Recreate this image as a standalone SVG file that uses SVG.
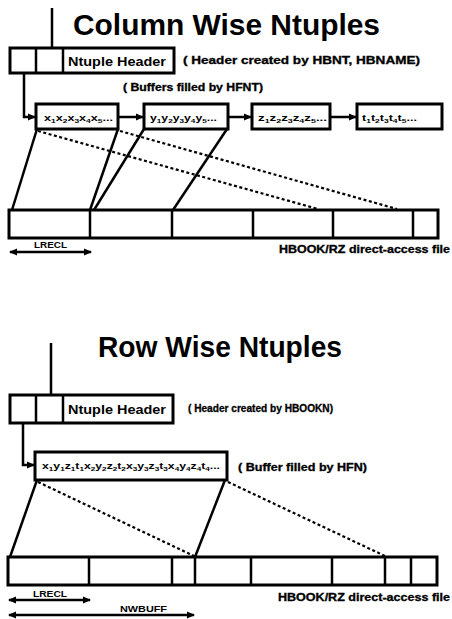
<svg xmlns="http://www.w3.org/2000/svg" width="452" height="619" viewBox="0 0 452 619">
<style>
text{font-family:"Liberation Sans",Arial,sans-serif;font-weight:bold;fill:#000}
.title{font-size:29px}
.hdr{font-size:13px}
.note{font-size:10px;stroke:#000;stroke-width:0.3}
.buf{font-size:9px}
.s{font-size:6px;baseline-shift:-2px}
.box{fill:#fff;stroke:#000;stroke-width:3}
.div{stroke:#000;stroke-width:2.5}
.ln{stroke:#000;stroke-width:2.5;fill:none}
.dot{stroke:#000;stroke-width:2.2;stroke-dasharray:3 2.5;fill:none}
</style>
<defs>
<marker id="ah" markerUnits="userSpaceOnUse" markerWidth="8" markerHeight="8" refX="7" refY="4" orient="auto">
<path d="M0,0.5 L8,4 L0,7.5 Z" fill="#000"/>
</marker>
<marker id="ahs" markerUnits="userSpaceOnUse" markerWidth="8" markerHeight="8" refX="1" refY="4" orient="auto">
<path d="M8,0.5 L0,4 L8,7.5 Z" fill="#000"/>
</marker>
</defs>

<!-- ===== Column Wise ===== -->
<text class="title" x="73" y="35" textLength="307" lengthAdjust="spacingAndGlyphs">Column Wise Ntuples</text>

<g id="cw-header">
<rect class="box" x="10" y="48" width="164" height="25"/>
<line class="div" x1="36" y1="48" x2="36" y2="73"/>
<line class="div" x1="63" y1="48" x2="63" y2="73"/>
<text class="hdr" x="68" y="66" textLength="98" lengthAdjust="spacingAndGlyphs">Ntuple Header</text>
</g>
<text class="note" x="183" y="64" textLength="237" lengthAdjust="spacingAndGlyphs">( Header created by HBNT, HBNAME)</text>
<text class="note" x="123" y="91" textLength="140" lengthAdjust="spacingAndGlyphs">( Buffers filled by HFNT)</text>

<g id="cw-buf-x">
<rect class="box" x="36" y="104" width="82" height="25"/>
<text class="buf" x="44" y="121" textLength="69" lengthAdjust="spacingAndGlyphs">x<tspan class="s">1</tspan>x<tspan class="s">2</tspan>x<tspan class="s">3</tspan>x<tspan class="s">4</tspan>x<tspan class="s">5</tspan>...</text>
</g>
<g id="cw-buf-y">
<rect class="box" x="144" y="104" width="84" height="25"/>
<text class="buf" x="150" y="121" textLength="67" lengthAdjust="spacingAndGlyphs">y<tspan class="s">1</tspan>y<tspan class="s">2</tspan>y<tspan class="s">3</tspan>y<tspan class="s">4</tspan>y<tspan class="s">5</tspan>...</text>
</g>
<g id="cw-buf-z">
<rect class="box" x="252" y="104" width="78" height="25"/>
<text class="buf" x="258" y="121" textLength="69" lengthAdjust="spacingAndGlyphs">z<tspan class="s">1</tspan>z<tspan class="s">2</tspan>z<tspan class="s">3</tspan>z<tspan class="s">4</tspan>z<tspan class="s">5</tspan>...</text>
</g>
<g id="cw-buf-t">
<rect class="box" x="357" y="104" width="85" height="25"/>
<text class="buf" x="362" y="121" textLength="55" lengthAdjust="spacingAndGlyphs">t<tspan class="s">1</tspan>t<tspan class="s">2</tspan>t<tspan class="s">3</tspan>t<tspan class="s">4</tspan>t<tspan class="s">5</tspan>...</text>
</g>

<g id="cw-file">
<rect class="box" x="9" y="210" width="429" height="28"/>
<line class="div" x1="90" y1="210" x2="90" y2="238"/>
<line class="div" x1="172" y1="210" x2="172" y2="238"/>
<line class="div" x1="253" y1="210" x2="253" y2="238"/>
<line class="div" x1="333" y1="210" x2="333" y2="238"/>
<line class="div" x1="413" y1="210" x2="413" y2="238"/>
</g>
<text class="note" x="279" y="253" textLength="171" lengthAdjust="spacingAndGlyphs">HBOOK/RZ direct-access file</text>
<text class="buf" x="34" y="248" textLength="33" lengthAdjust="spacingAndGlyphs">LRECL</text>

<g id="cw-connectors">
<line class="ln" x1="52" y1="8" x2="52" y2="48"/>
<path class="ln" d="M24,73 V117 H35" marker-end="url(#ah)"/>
<line class="ln" x1="118" y1="117" x2="143" y2="117" marker-end="url(#ah)"/>
<line class="ln" x1="228" y1="117" x2="251" y2="117" marker-end="url(#ah)"/>
<line class="ln" x1="330" y1="117" x2="356" y2="117" marker-end="url(#ah)"/>
<line class="ln" x1="37" y1="129" x2="12" y2="210"/>
<line class="ln" x1="118" y1="129" x2="90" y2="210"/>
<line class="ln" x1="144" y1="129" x2="94" y2="210"/>
<line class="ln" x1="227" y1="129" x2="173" y2="210"/>
<line class="dot" x1="38" y1="131" x2="318" y2="209"/>
<line class="dot" x1="120" y1="131" x2="397" y2="209"/>
<line class="ln" x1="10" y1="252" x2="91" y2="252" marker-start="url(#ahs)" marker-end="url(#ah)"/>
</g>

<!-- ===== Row Wise ===== -->
<text class="title" x="98" y="357" textLength="244" lengthAdjust="spacingAndGlyphs">Row Wise Ntuples</text>

<g id="rw-header">
<rect class="box" x="10" y="395" width="163" height="28"/>
<line class="div" x1="36" y1="395" x2="36" y2="423"/>
<line class="div" x1="63" y1="395" x2="63" y2="423"/>
<text class="hdr" x="68" y="414" textLength="98" lengthAdjust="spacingAndGlyphs">Ntuple Header</text>
</g>
<text class="note" x="188" y="412" textLength="145" lengthAdjust="spacingAndGlyphs">( Header created by HBOOKN)</text>

<g id="rw-buf">
<rect class="box" x="35" y="452" width="192" height="28"/>
<text class="buf" x="42" y="469" textLength="178" lengthAdjust="spacingAndGlyphs">x<tspan class="s">1</tspan>y<tspan class="s">1</tspan>z<tspan class="s">1</tspan>t<tspan class="s">1</tspan>x<tspan class="s">2</tspan>y<tspan class="s">2</tspan>z<tspan class="s">2</tspan>t<tspan class="s">2</tspan>x<tspan class="s">3</tspan>y<tspan class="s">3</tspan>z<tspan class="s">3</tspan>t<tspan class="s">3</tspan>x<tspan class="s">4</tspan>y<tspan class="s">4</tspan>z<tspan class="s">4</tspan>t<tspan class="s">4</tspan>...</text>
</g>
<text class="note" x="238" y="471" textLength="129" lengthAdjust="spacingAndGlyphs">( Buffer filled by HFN)</text>

<g id="rw-file">
<rect class="box" x="8" y="557" width="429" height="28"/>
<line class="div" x1="89" y1="557" x2="89" y2="585"/>
<line class="div" x1="172" y1="557" x2="172" y2="585"/>
<line class="div" x1="195" y1="557" x2="195" y2="585"/>
<line class="div" x1="251" y1="557" x2="251" y2="585"/>
<line class="div" x1="332" y1="557" x2="332" y2="585"/>
<line class="div" x1="385" y1="557" x2="385" y2="585"/>
<line class="div" x1="411" y1="557" x2="411" y2="585"/>
</g>
<text class="note" x="278" y="601" textLength="172" lengthAdjust="spacingAndGlyphs">HBOOK/RZ direct-access file</text>
<text class="buf" x="33" y="597" textLength="34" lengthAdjust="spacingAndGlyphs">LRECL</text>
<text class="buf" x="120" y="612" textLength="47" lengthAdjust="spacingAndGlyphs">NWBUFF</text>

<g id="rw-connectors">
<line class="ln" x1="51" y1="343" x2="51" y2="395"/>
<path class="ln" d="M23,423 V465 H34" marker-end="url(#ah)"/>
<line class="ln" x1="37" y1="480" x2="10" y2="557"/>
<line class="ln" x1="225" y1="480" x2="195" y2="557"/>
<line class="dot" x1="38" y1="482" x2="194" y2="556"/>
<line class="dot" x1="228" y1="482" x2="385" y2="556"/>
<line class="ln" x1="9" y1="600" x2="90" y2="600" marker-start="url(#ahs)" marker-end="url(#ah)"/>
<line class="ln" x1="9" y1="615" x2="194" y2="615" marker-start="url(#ahs)" marker-end="url(#ah)"/>
</g>
</svg>
